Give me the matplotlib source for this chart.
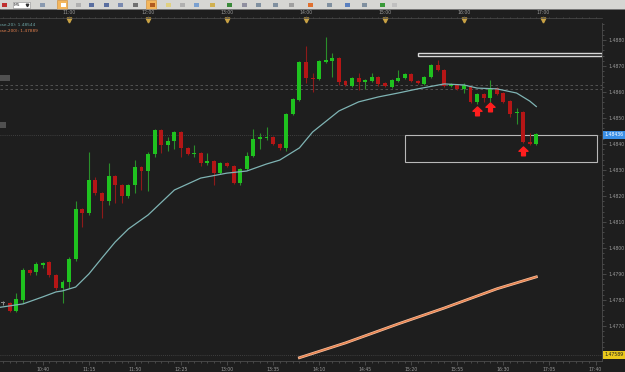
#!/usr/bin/env python3
import matplotlib
matplotlib.use("Agg")
import matplotlib.pyplot as plt
import numpy as np
from matplotlib.path import Path
from matplotlib.patches import Rectangle
from matplotlib.transforms import blended_transform_factory
from matplotlib.ticker import MultipleLocator

W, H = 625, 372
BG = "#1e1e1e"
TXT = "#9a9a9a"

# 5 minute candles, first one at 10:10
FIRST_BAR = 10 * 60 + 10
BAR_MIN = 5

opens = [
    1.47788, 1.47788, 1.47758, 1.47800, 1.47915, 1.47908, 1.47935, 1.47946, 1.47896, 1.47846,
    1.47869, 1.47958, 1.48150, 1.48135, 1.48262, 1.48212, 1.48181, 1.48277, 1.48242, 1.48200,
    1.48242, 1.48312, 1.48296, 1.48362, 1.48454, 1.48396, 1.48412, 1.48446, 1.48385, 1.48362,
    1.48365, 1.48327, 1.48335, 1.48288, 1.48327, 1.48315, 1.48250, 1.48304, 1.48354, 1.48419,
    1.48423, 1.48427, 1.48400, 1.48385, 1.48515, 1.48569, 1.48715, 1.48654, 1.48650, 1.48715,
    1.48719, 1.48731, 1.48642, 1.48623, 1.48654, 1.48638, 1.48642, 1.48658, 1.48635, 1.48619,
    1.48642, 1.48654, 1.48669, 1.48642, 1.48631, 1.48658, 1.48704, 1.48685, 1.48623, 1.48627,
    1.48612, 1.48619, 1.48562, 1.48592, 1.48577, 1.48615, 1.48596, 1.48565, 1.48519, 1.48523,
    1.48408, 1.48400]
highs = [
    1.47796, 1.47792, 1.47827, 1.47923, 1.47919, 1.47946, 1.47946, 1.47950, 1.47900, 1.47877,
    1.47965, 1.48181, 1.48154, 1.48369, 1.48273, 1.48215, 1.48327, 1.48281, 1.48246, 1.48246,
    1.48338, 1.48315, 1.48369, 1.48458, 1.48458, 1.48427, 1.48450, 1.48450, 1.48388, 1.48396,
    1.48369, 1.48365, 1.48338, 1.48331, 1.48331, 1.48319, 1.48308, 1.48369, 1.48458, 1.48442,
    1.48465, 1.48431, 1.48404, 1.48519, 1.48577, 1.48719, 1.48777, 1.48673, 1.48723, 1.48812,
    1.48750, 1.48735, 1.48646, 1.48658, 1.48673, 1.48650, 1.48673, 1.48662, 1.48638, 1.48650,
    1.48685, 1.48673, 1.48673, 1.48646, 1.48662, 1.48708, 1.48723, 1.48688, 1.48635, 1.48631,
    1.48635, 1.48623, 1.48596, 1.48596, 1.48646, 1.48619, 1.48600, 1.48569, 1.48538, 1.48527,
    1.48442, 1.48442]
lows = [
    1.47781, 1.47754, 1.47754, 1.47788, 1.47896, 1.47896, 1.47923, 1.47888, 1.47838, 1.47788,
    1.47846, 1.47950, 1.48081, 1.48127, 1.48204, 1.48115, 1.48165, 1.48173, 1.48173, 1.48192,
    1.48212, 1.48223, 1.48219, 1.48350, 1.48365, 1.48373, 1.48381, 1.48350, 1.48358, 1.48350,
    1.48315, 1.48319, 1.48242, 1.48285, 1.48312, 1.48246, 1.48242, 1.48300, 1.48350, 1.48381,
    1.48415, 1.48396, 1.48377, 1.48373, 1.48512, 1.48565, 1.48635, 1.48600, 1.48646, 1.48712,
    1.48658, 1.48627, 1.48623, 1.48619, 1.48608, 1.48612, 1.48638, 1.48623, 1.48619, 1.48615,
    1.48638, 1.48650, 1.48638, 1.48631, 1.48627, 1.48654, 1.48681, 1.48619, 1.48619, 1.48608,
    1.48596, 1.48558, 1.48554, 1.48562, 1.48562, 1.48588, 1.48558, 1.48504, 1.48477, 1.48404,
    1.48396, 1.48396]
closes = [
    1.47788, 1.47758, 1.47804, 1.47915, 1.47904, 1.47938, 1.47942, 1.47896, 1.47846, 1.47869,
    1.47958, 1.48150, 1.48135, 1.48262, 1.48212, 1.48181, 1.48277, 1.48242, 1.48200, 1.48242,
    1.48312, 1.48296, 1.48362, 1.48454, 1.48396, 1.48412, 1.48446, 1.48385, 1.48362, 1.48365,
    1.48327, 1.48335, 1.48288, 1.48327, 1.48315, 1.48250, 1.48304, 1.48354, 1.48419, 1.48427,
    1.48427, 1.48400, 1.48385, 1.48515, 1.48573, 1.48715, 1.48654, 1.48650, 1.48719, 1.48723,
    1.48731, 1.48638, 1.48627, 1.48654, 1.48638, 1.48646, 1.48658, 1.48631, 1.48623, 1.48646,
    1.48654, 1.48669, 1.48642, 1.48635, 1.48658, 1.48704, 1.48685, 1.48623, 1.48631, 1.48612,
    1.48627, 1.48562, 1.48592, 1.48577, 1.48615, 1.48592, 1.48562, 1.48515, 1.48523, 1.48408,
    1.48400, 1.48438]

# moving averages (bar number -> value)
sma20_bar = [0, 4, 7, 9, 10, 12, 14, 16, 18, 20, 23, 27, 31, 35, 38, 41, 43, 46, 48,
             52, 55, 58, 61, 64, 68, 71, 73, 76, 79, 81, 82]
sma20_val = [1.47770, 1.47785, 1.47812, 1.47831, 1.47835, 1.47850, 1.47900, 1.47962,
             1.48023, 1.48073, 1.48127, 1.48223, 1.48269, 1.48288, 1.48296, 1.48323,
             1.48338, 1.48385, 1.48446, 1.48527, 1.48562, 1.48581, 1.48596, 1.48612,
             1.48631, 1.48627, 1.48615, 1.48612, 1.48596, 1.48565, 1.48544]
sma200_bar = [46, 53, 61, 68, 76, 82]
sma200_val = [1.47578, 1.47635, 1.47708, 1.47769, 1.47843, 1.47889]

arrow_bar = [73, 75, 80]
arrow_price = [1.48527, 1.48542, 1.48373]

bottom_labels = ["10:40", "11:15", "11:50", "12:25", "13:00", "13:35", "14:10",
                 "14:45", "15:20", "15:55", "16:30", "17:05", "17:40"]
top_labels = ["11:00", "12:00", "13:00", "14:00", "15:00", "16:00", "17:00"]
price_ticks = [1.4770, 1.4780, 1.4790, 1.4800, 1.4810, 1.4820, 1.4830,
               1.4840, 1.4850, 1.4860, 1.4870, 1.4880]

last_price = 1.48436
level_price = 1.47589
dash_levels = [1.48627, 1.48612]
# zones: (start, end, low, high)
zone_top = ("15:25", "17:45", 1.48738, 1.48750)
zone_low = ("15:15", "17:41", 1.48331, 1.48435)


def hm(s):
    h, m = s.split(":")
    return int(h) * 60 + int(m)


def bar_time(b):
    return FIRST_BAR + BAR_MIN * (np.asarray(b) - 1)


def px_box(left, top, right, bottom):
    return [left / W, 1 - bottom / H, (right - left) / W, (bottom - top) / H]


o = np.array(opens); hi = np.array(highs); lo = np.array(lows); c = np.array(closes)
t = bar_time(np.arange(1, len(o) + 1))

fig = plt.figure(figsize=(W / 100, H / 100), dpi=100, facecolor=BG)
ax = fig.add_axes(px_box(0, 23, 602, 361))
ax.set_facecolor(BG)
ax.set_xlim(607.5, 1064.9)
ax.set_ylim(1.475654, 1.488653)

# level lines
for p in dash_levels:
    ax.axhline(p, color="#5a5a5a", lw=0.6, ls=(0, (3, 3)))
ax.axhline(last_price, color="#4a4a4a", lw=0.6, ls=(0, (1, 1.5)))
ax.axhline(level_price, color="#4a4a4a", lw=0.6, ls=(0, (1, 1.5)))

# zones
for z, ec, lw in [(zone_top, "#d8d8d8", 1.0), (zone_low, "#b8b8b8", 0.8)]:
    ax.add_patch(Rectangle((hm(z[0]), z[2]), hm(z[1]) - hm(z[0]), z[3] - z[2],
                           fill=False, ec=ec, lw=lw, zorder=2))

# candles
up = c > o
down = c < o
body_col = np.where(up, "#1fc21f", np.where(down, "#b51616", "#8a8a8a"))
wick_col = np.where(up, "#2a8f2a", np.where(down, "#8e1a1a", "#8a8a8a"))
ax.vlines(t, lo, hi, colors=wick_col, lw=0.8, zorder=3)
height = np.maximum(np.abs(c - o), 0.00003)
ax.bar(t, height, bottom=np.minimum(o, c), width=3.0, color=body_col,
       edgecolor="none", zorder=4)

# moving averages
ax.plot(bar_time(sma20_bar), sma20_val, color="#7fb4b4", lw=0.9, zorder=5)
ax.plot(bar_time(sma200_bar), sma200_val, color="#f6c0a0", lw=2.0, zorder=5)
ax.plot(bar_time(sma200_bar), sma200_val, color="#e8824e", lw=1.0, zorder=5)

# signal arrows
arrow = Path([(0, 1), (1, 0.05), (0.42, 0.05), (0.42, -0.95), (-0.42, -0.95),
              (-0.42, 0.05), (-1, 0.05), (0, 1)],
             [Path.MOVETO] + [Path.LINETO] * 6 + [Path.CLOSEPOLY])
ax.plot(bar_time(arrow_bar), arrow_price, ls="none", marker=arrow, ms=6.5,
        color="#ff1e1e", zorder=6)

# axes styling
for s in ["top", "left"]:
    ax.spines[s].set_visible(False)
for s in ["right", "bottom"]:
    ax.spines[s].set_color("#4c4c4c")
    ax.spines[s].set_linewidth(0.6)

ax.yaxis.tick_right()
ax.set_yticks(price_ticks)
ax.set_yticklabels([f"{p:.4f}" for p in price_ticks])
ax.yaxis.set_minor_locator(MultipleLocator(0.0002))
ax.tick_params(axis="y", which="major", length=3, width=0.5, color="#5a5a5a",
               labelsize=3.3, labelcolor=TXT, pad=1.5)
ax.tick_params(axis="y", which="minor", length=1.5, width=0.5, color="#5a5a5a")

ax.set_xticks([hm(s) for s in bottom_labels])
ax.set_xticklabels(bottom_labels)
ax.xaxis.set_minor_locator(MultipleLocator(5))
ax.tick_params(axis="x", which="major", length=3, width=0.5, color="#5a5a5a",
               labelsize=3.3, labelcolor=TXT, pad=1.5)
ax.tick_params(axis="x", which="minor", length=1.5, width=0.5, color="#5a5a5a")

# top time strip
ax_top = fig.add_axes(px_box(0, 17.5, 602, 18), facecolor="none")
ax_top.set_xlim(ax.get_xlim())
ax_top.set_yticks([])
for s in ["top", "left", "right"]:
    ax_top.spines[s].set_visible(False)
ax_top.spines["bottom"].set_color("#4c4c4c")
ax_top.spines["bottom"].set_linewidth(0.5)
ax_top.xaxis.set_ticks_position("top")
ax_top.set_xticks([hm(s) for s in top_labels])
ax_top.set_xticklabels(top_labels)
ax_top.xaxis.set_minor_locator(MultipleLocator(5))
ax_top.tick_params(axis="x", which="major", length=1.2, width=0.5, color="#5a5a5a",
                   labelsize=3.3, labelcolor=TXT, pad=0.3)
ax_top.tick_params(axis="x", which="minor", length=0.9, width=0.5, color="#5a5a5a")
tr = blended_transform_factory(ax.transData, fig.transFigure)
ax.plot([hm(s) for s in top_labels], [1 - 19.5 / H] * len(top_labels), ls="none",
        marker="v", ms=3.5, color="#c9a244", transform=tr, clip_on=False)

# price tags on the right
ty = blended_transform_factory(ax.transAxes, ax.transData)
ax.text(1.004, last_price, f"{last_price:.5f}", transform=ty, ha="left", va="center",
        fontsize=3.3, color="white", clip_on=False, zorder=7,
        bbox=dict(boxstyle="square,pad=0.3", fc="#3a8fe6", ec="none"))
ax.text(1.004, level_price, f"{level_price:.5f}", transform=ty, ha="left", va="center",
        fontsize=3.3, color="#202020", clip_on=False, zorder=7,
        bbox=dict(boxstyle="square,pad=0.3", fc="#e9c81c", ec="none"))

# indicator legend (cut off on the left like the screenshot)
fig.text(-0.002, 1 - 25.5 / H, f"ose,20): {sma20_val[-1]:.5f}", color="#6fa8a8",
         fontsize=3.1, va="center", ha="left")
fig.text(-0.002, 1 - 30.5 / H, f"ose,200): {sma200_val[-1]:.5f}", color="#e8824e",
         fontsize=3.1, va="center", ha="left")

# window chrome: toolbar and small tabs
ov = fig.add_axes([0, 0, 1, 1], zorder=10)
ov.set_xlim(0, W)
ov.set_ylim(H, 0)
ov.axis("off")
ov.patch.set_alpha(0)
ov.add_patch(Rectangle((0, 0), W, 9.2, fc="#d6d6d3", ec="none"))
ov.plot([0, W], [9.2, 9.2], color="#9c9c9c", lw=0.5)
ov.add_patch(Rectangle((12.5, 1.5), 17, 6.5, fc="white", ec="#8a8a8a", lw=0.4))
ov.text(14, 4.8, "M5", fontsize=3.2, color="#202020", va="center")
ov.plot([26.5], [4.6], marker="v", ms=1.8, color="#303030")
for x0 in [57, 146]:
    ov.add_patch(Rectangle((x0, 0.3), 10, 8.6, fc="#f4b65c", ec="#d08a30", lw=0.4))
icons = [(2, "#c03030"), (40, "#8a9ab0"), (61, "#ffffff"), (76, "#b0b0b0"),
         (89, "#5a6fa0"), (104, "#5a6fa0"), (118, "#7a8ab0"), (133, "#707070"),
         (150, "#b05a20"), (166, "#e0d080"), (180, "#b0b0b0"), (194, "#7aa0d0"),
         (210, "#d0b050"), (227, "#3a8a3a"), (242, "#9090a0"), (256, "#8090a0"),
         (273, "#8090a0"), (289, "#a0a0a0"), (308, "#e07030"), (327, "#8090a0"),
         (345, "#5a80c0"), (362, "#8090a0"), (380, "#3a9a3a"), (392, "#c0c0c0")]
for x0, col in icons:
    ov.add_patch(Rectangle((x0, 2.5), 5, 4.5, fc=col, ec="none"))
ov.add_patch(Rectangle((0, 74.5), 10, 6.5, fc="#505050", ec="none"))
ov.add_patch(Rectangle((0, 122), 6, 6, fc="#505050", ec="none"))

fig.savefig("out.png", dpi=100, facecolor=BG)
